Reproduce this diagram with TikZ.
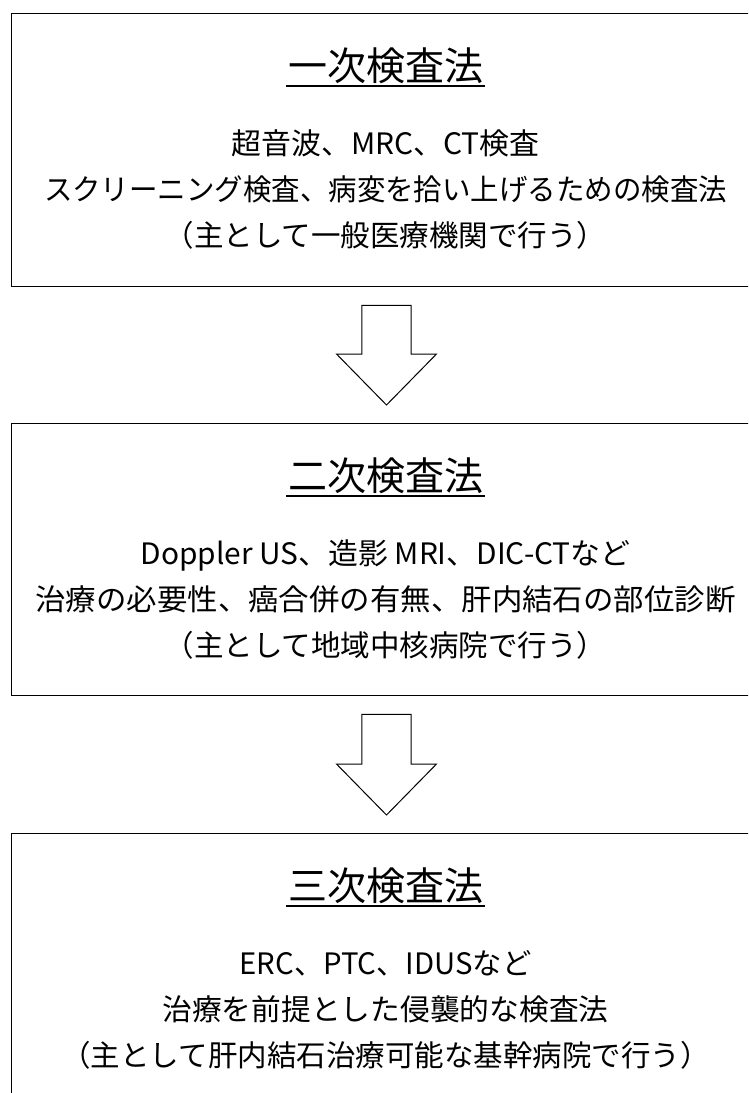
\documentclass[tikz,border=0pt]{standalone}
\usepackage{fontspec}
\usepackage{graphicx}
\newfontfamily\jp{Noto Sans CJK JP}
\usetikzlibrary{calc}
\newsavebox\fitbox
\newcommand\fitw[2]{\sbox\fitbox{#2}\pgfmathsetmacro\fitx{#1/\wd\fitbox}\scalebox{\fitx}[1]{\usebox\fitbox}}
\tikzset{
  panel/.style={draw=black, line width=1.3pt, rectangle, anchor=north west, inner sep=0pt},
  titletext/.style={font=\jp\fontsize{39}{44}\selectfont, anchor=base, inner sep=0pt},
  bodytext/.style={font=\jp\fontsize{29.5}{34}\selectfont, anchor=base, inner sep=0pt},
  uline/.style={line width=1.2pt},
  blockarrow/.style={draw=black, line width=1pt, line join=miter, fill=white},
}
\begin{document}
\begin{tikzpicture}[x=1pt,y=1pt]
\useasboundingbox (0,0) rectangle (748,-1093);
\clip (0,0) rectangle (748,-1093);
\fill[white] (0,0) rectangle (748,-1093);
\coordinate (cx) at (385.5,0);
% panels
\node[panel, minimum width=770pt, minimum height=273pt] (b1) at (11,-13) {};
\node[panel, minimum width=770pt, minimum height=272pt] (b2) at (11,-423) {};
\node[panel, minimum width=770pt, minimum height=300pt] (b3) at (11,-833) {};
% box 1 text
\node[titletext] (t1) at ($(cx |- b1.north)+(0,-67)$) {一次検査法};
\draw[uline] ($(t1.base west)+(-1.5,-6)$) -- ($(t1.base east)+(1.5,-6)$);
\node[bodytext] (l11) at ($(cx |- b1.north)+(0,-141)$) {\fitw{308}{超音波、MRC、CT検査}};
\node[bodytext] (l12) at ($(cx |- b1.north)+(0,-187)$) {\fitw{683}{スクリーニング検査、病変を拾い上げるための検査法}};
\node[bodytext] (l13) at ($(cx |- b1.north)+(0,-233)$) {（主として一般医療機関で行う）};
% box 2 text
\node[titletext] (t2) at ($(cx |- b2.north)+(0,-67)$) {二次検査法};
\draw[uline] ($(t2.base west)+(-1.5,-6)$) -- ($(t2.base east)+(1.5,-6)$);
\node[bodytext] (l21) at ($(cx |- b2.north)+(0,-141)$) {\fitw{490}{Doppler US、造影 MRI、DIC-CTなど}};
\node[bodytext] (l22) at ($(cx |- b2.north)+(0,-187)$) {\fitw{700}{治療の必要性、癌合併の有無、肝内結石の部位診断}};
\node[bodytext] (l23) at ($(cx |- b2.north)+(0,-233)$) {（主として地域中核病院で行う）};
% box 3 text
\node[titletext] (t3) at ($(cx |- b3.north)+(0,-67)$) {三次検査法};
\draw[uline] ($(t3.base west)+(-1.5,-6)$) -- ($(t3.base east)+(1.5,-6)$);
\node[bodytext] (l31) at ($(cx |- b3.north)+(0,-141)$) {\fitw{292}{ERC、PTC、IDUSなど}};
\node[bodytext] (l32) at ($(cx |- b3.north)+(0,-187)$) {\fitw{446}{治療を前提とした侵襲的な検査法}};
\node[bodytext] (l33) at ($(cx |- b3.north)+(0,-233)$) {（主として肝内結石治療可能な基幹病院で行う）};
% block arrows
\coordinate (ax) at (386.5,0);
\draw[blockarrow] ($(ax |- b2.north)+(0,18)$) -- ++(50,51) -- ++(-25.3,0)
  -- ($(ax |- b1.south)+(24.7,-18)$) -- ($(ax |- b1.south)+(-24.7,-18)$)
  -- ($(ax |- b2.north)+(-24.7,69)$) -- ++(-25.3,0) -- cycle;
\draw[blockarrow] ($(ax |- b3.north)+(0,18)$) -- ++(50,51) -- ++(-25.3,0)
  -- ($(ax |- b2.south)+(24.7,-18)$) -- ($(ax |- b2.south)+(-24.7,-18)$)
  -- ($(ax |- b3.north)+(-24.7,69)$) -- ++(-25.3,0) -- cycle;
\end{tikzpicture}
\end{document}
